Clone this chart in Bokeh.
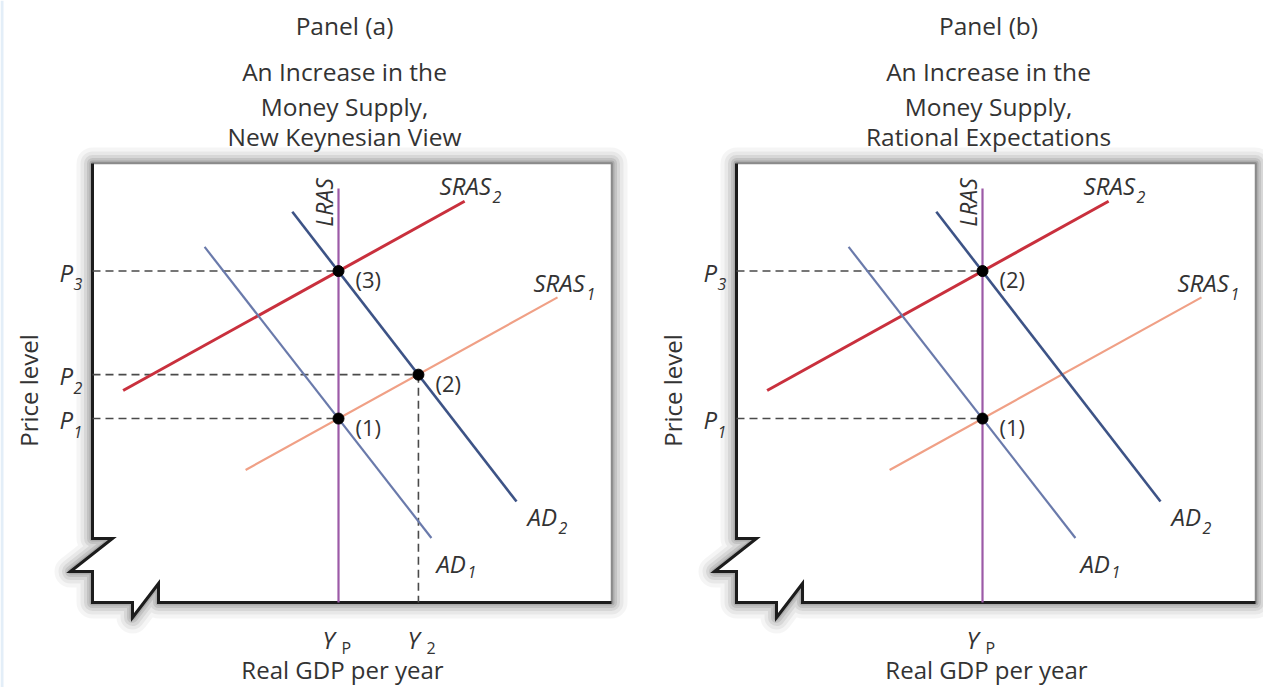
import numpy as np
from bokeh.plotting import figure
from bokeh.layouts import row
from bokeh.models import Range1d
from bokeh.core.properties import value
from bokeh.embed import file_html
from bokeh.resources import INLINE

# ---------------- data (economic units: real GDP on x 0..10, price level on y 0..10)
Y_P = 4.74
Y_2 = 6.28
P_1 = 4.19
P_2 = 5.19
P_3 = 7.55
LRAS_TOP = 9.43
AD1_x = [2.16, 6.53]
AD1_y = [8.10, 1.47]
AD2_x = [3.85, 8.17]
AD2_y = [8.90, 2.30]
SRAS1_x = [2.95, 8.96]
SRAS1_y = [3.02, 6.95]
SRAS2_x = [0.59, 7.17]
SRAS2_y = [4.83, 9.14]

titles_a = ["Panel (a)", "An Increase in the", "Money Supply,", "New Keynesian View"]
titles_b = ["Panel (b)", "An Increase in the", "Money Supply,", "Rational Expectations"]
points_a = [(Y_P, P_1, "(1)"), (Y_2, P_2, "(2)"), (Y_P, P_3, "(3)")]
points_b = [(Y_P, P_1, "(1)"), (Y_P, P_3, "(2)")]
price_ticks_a = [(P_3, "3"), (P_2, "2"), (P_1, "1")]
price_ticks_b = [(P_3, "3"), (P_1, "1")]
gdp_ticks_a = [(Y_P, "P"), (Y_2, "2")]
gdp_ticks_b = [(Y_P, "P")]

# frame outline with axis break (box is 0..10 x 0..10)
FRAME_BLACK_X = [0, 0, 0.385, -0.424, 0, 0, 0.771, 0.771, 1.272, 1.272, 10]
FRAME_BLACK_Y = [10, 1.458, 1.458, 0.706, 0.706, 0, 0, -0.342, 0.433, 0, 0]

# ---------------- layout constants (pixels)
PX = 51.9   # px per x unit
PY = 43.9   # px per y unit
BOX_L = 92
BOX_T = 163
H = 687
FONT = value("Open Sans")
TXT = "#333333"


def ox(x, dx):
    return x + dx / PX


def oy(y, dy):
    return y - dy / PY


def make_fig(width):
    p = figure(width=width, height=H,
               x_range=Range1d(-BOX_L / PX, (width - BOX_L) / PX),
               y_range=Range1d(-(H - BOX_T - 10 * PY) / PY, 10 + BOX_T / PY),
               x_axis_type=None, y_axis_type=None,
               output_backend="svg", toolbar_location=None, min_border=0)
    p.grid.visible = False
    p.outline_line_color = None
    p.background_fill_color = "white"
    p.border_fill_color = "white"
    return p


def txt(p, x, y, s, size="24px", style="normal", align="left", angle=0.0):
    p.text(x=[x], y=[y], text=[s], text_font=FONT, text_font_size=size,
           text_font_style=style, text_align=align, text_baseline="middle",
           text_color=TXT, angle=angle)


def sub_label(p, x, y, main, sub, dx, dy, sdx, sdy):
    txt(p, ox(x, dx), oy(y, dy), main, size="24px", style="italic")
    txt(p, ox(x, sdx), oy(y, sdy), sub, size="16px", style="italic")


def panel(width, titles, points, price_ticks, gdp_ticks, strip=False):
    p = make_fig(width)
    if strip:
        xr0 = p.x_range.start
        p.quad(left=[xr0], right=[xr0 + 3 / PX], bottom=[p.y_range.start], top=[p.y_range.end],
               fill_color="#e3eef8", line_color=None)

    # shadow + white box
    sx = FRAME_BLACK_X + [10, 0]
    sy = FRAME_BLACK_Y + [10, 10]
    for w, a in [(32, 0.04), (24, 0.05), (17, 0.07), (11, 0.09), (6, 0.12), (3, 0.15)]:
        p.patch(sx, sy, fill_alpha=0, line_color="black", line_alpha=a, line_width=w, line_join="round")
    p.patch(sx, sy, fill_color="white", line_color=None)
    p.line([10, 10, 0], [0, 10, 10], line_color="#8a8a8a", line_width=1.5)
    p.line(FRAME_BLACK_X, FRAME_BLACK_Y, line_color="#1c1c1c", line_width=3, line_join="miter")

    # dashed guides
    dash = dict(line_color="#4a4a4a", line_width=1.6, line_dash="8 5")
    for (py_, _) in price_ticks:
        xe = Y_2 if py_ == P_2 else Y_P
        p.segment(x0=[0], y0=[py_], x1=[xe], y1=[py_], **dash)
    for (gx, s) in gdp_ticks:
        if s == "2":
            p.segment(x0=[gx], y0=[P_2], x1=[gx], y1=[0], **dash)

    # curves
    p.line(SRAS1_x, SRAS1_y, line_color="#f0a086", line_width=2.2)
    p.line(SRAS2_x, SRAS2_y, line_color="#c9303d", line_width=3)
    p.line(AD1_x, AD1_y, line_color="#6a7aab", line_width=2.2)
    p.line(AD2_x, AD2_y, line_color="#3d5386", line_width=2.6)
    p.line([Y_P, Y_P], [0, LRAS_TOP], line_color="#9c5aa7", line_width=2.2)

    # equilibrium points
    p.scatter([pt[0] for pt in points], [pt[1] for pt in points], size=11, color="black")
    for (x, y, s) in points:
        txt(p, ox(x, 17), oy(y, 8), s, size="22px")

    # curve labels (main text, subscript)
    sub_label(p, SRAS2_x[1], SRAS2_y[1], "SRAS", "2", -25, -15.5, 28, -4.5)
    sub_label(p, SRAS1_x[1], SRAS1_y[1], "SRAS", "1", -24, -14.5, 29, -3.5)
    sub_label(p, AD2_x[1], AD2_y[1], "AD", "2", 11, 14.5, 42, 26.5)
    sub_label(p, AD1_x[1], AD1_y[1], "AD", "1", 5, 25.5, 36, 34.5)
    txt(p, ox(Y_P, -15), oy(LRAS_TOP, 14), "LRAS", size="23px", style="italic",
        align="center", angle=np.pi / 2)

    # tick labels
    for (py_, s) in price_ticks:
        txt(p, ox(0, -33), oy(py_, 1), "P", size="24px", style="italic")
        txt(p, ox(0, -19), oy(py_, 13), s, size="16px", style="italic")
    for (gx, s) in gdp_ticks:
        dx = -16 if s == "P" else -11
        txt(p, ox(gx, dx), oy(0, 36.5), "Y", size="24px", style="italic")
        txt(p, ox(gx, dx + 19), oy(0, 45), s, size="16px", style="normal")

    # axis titles
    txt(p, ox(0, -64), oy(10, 227), "Price level", size="24px", align="center", angle=np.pi / 2)
    txt(p, ox(Y_P, 4), oy(0, 67), "Real GDP per year", size="24px", align="center")

    # titles
    cx = ox(Y_P, 6)
    for s, cy in zip(titles, [25, 71, 106, 136]):
        txt(p, cx, oy(10, cy - BOX_T), s, size="24.5px", align="center")
    return p


pa = panel(644, titles_a, points_a, price_ticks_a, gdp_ticks_a, strip=True)
pb = panel(619, titles_b, points_b, price_ticks_b, gdp_ticks_b)

layout = row(pa, pb, spacing=0)
open("out.html", "w").write(file_html(layout, INLINE))
